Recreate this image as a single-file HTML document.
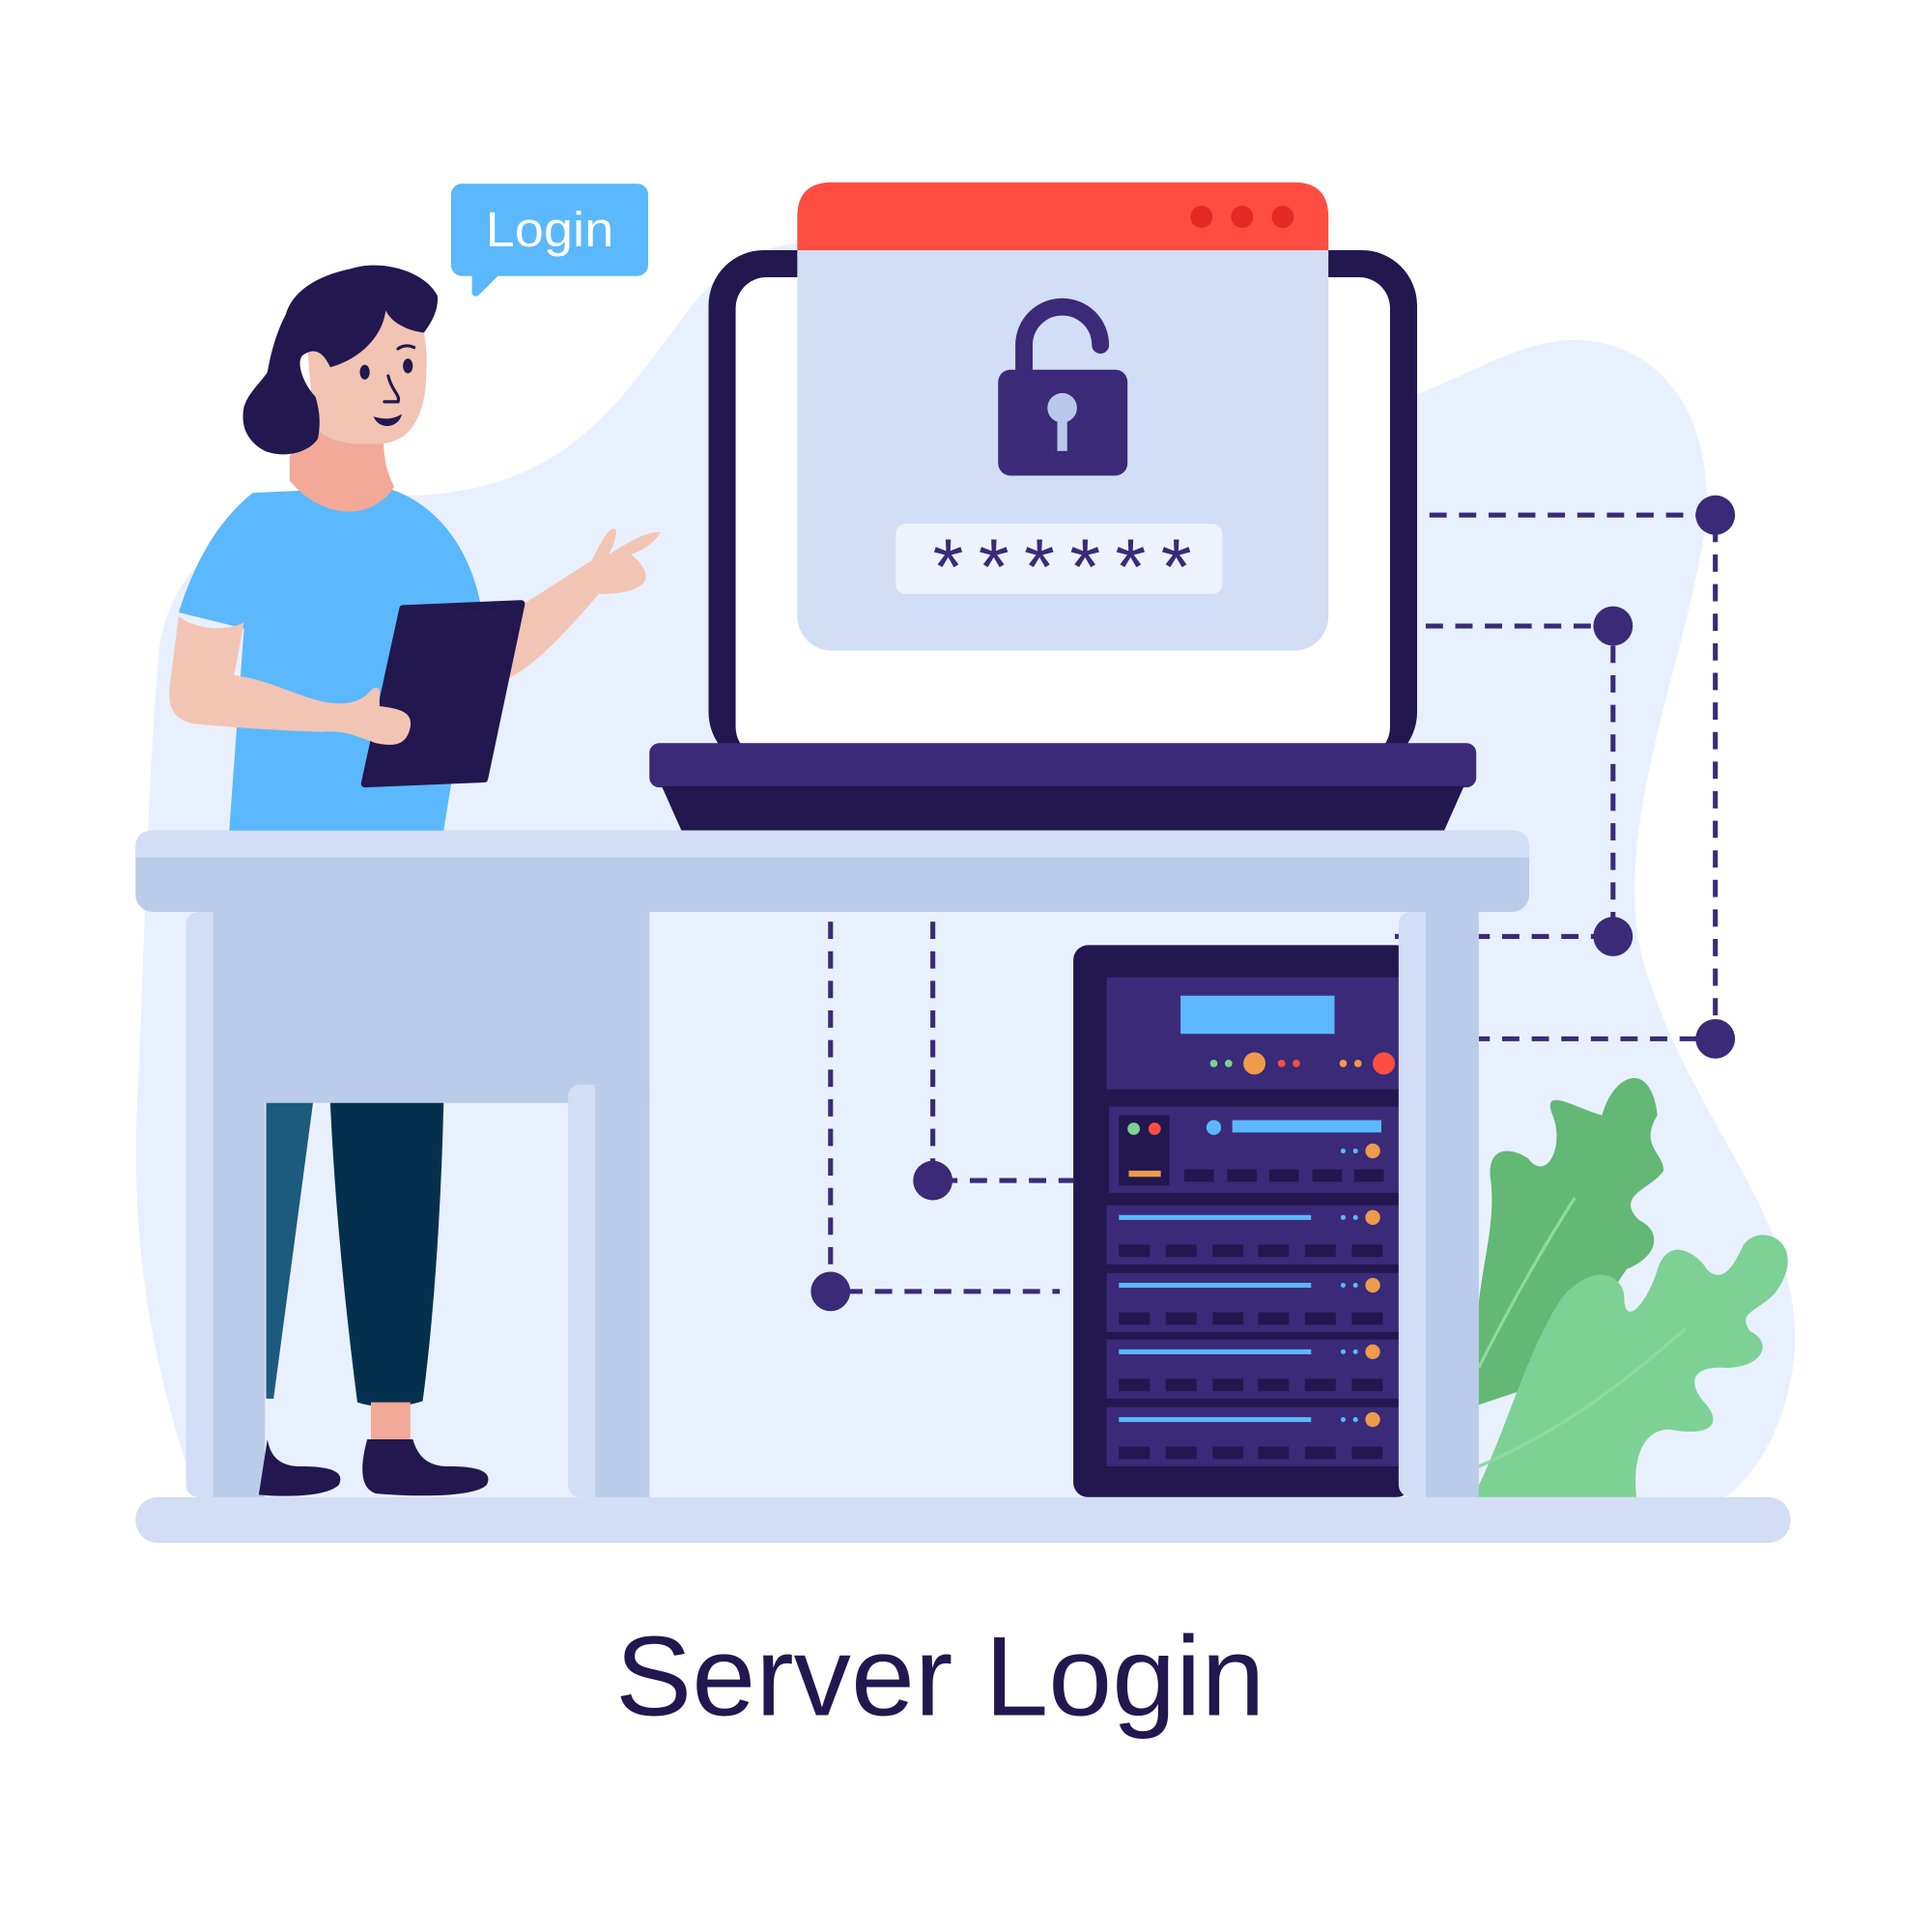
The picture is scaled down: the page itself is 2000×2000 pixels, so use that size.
<!DOCTYPE html>
<html><head><meta charset="utf-8"><style>html,body{margin:0;padding:0;background:#fff}svg{display:block}</style></head>
<body>
<svg width="2000" height="2000" viewBox="0 0 1560 1560" xmlns="http://www.w3.org/2000/svg">
<rect width="1560" height="1560" fill="#fff"/>
<g transform="scale(0.995)">
<path d="M130 520 C150 420 260 400 340 402 C460 395 500 330 560 250 C600 200 640 190 700 200 L1150 320 C1200 300 1230 280 1270 276 C1360 272 1400 360 1380 450 C1360 560 1300 700 1340 800 C1380 920 1470 1000 1455 1110 C1445 1170 1420 1200 1400 1215 L160 1215 C120 1100 105 1000 112 880 C118 750 120 620 130 520 Z" fill="#E9F0FD"/>
<rect x="575" y="203" width="575" height="420" rx="45" fill="#22174F"/>
<rect x="597" y="225" width="531" height="390" rx="25" fill="#fff"/>
<rect x="647" y="148" width="431" height="380" rx="28" fill="#D2DDF6"/>
<path d="M647 203 L647 176 Q647 148 675 148 L1050 148 Q1078 148 1078 176 L1078 203 Z" fill="#FF4D42"/>
<circle cx="975" cy="176" r="9" fill="#E42A24"/><circle cx="1008" cy="176" r="9" fill="#E42A24"/><circle cx="1041" cy="176" r="9" fill="#E42A24"/>
<path d="M831 300 L831 280 A31 31 0 0 1 893 280" fill="none" stroke="#3A2A78" stroke-width="14" stroke-linecap="round"/>
<rect x="810" y="300" width="105" height="86" rx="10" fill="#3A2A78"/>
<circle cx="862" cy="331" r="12" fill="#B9C8EA"/><rect x="858" y="338" width="8" height="28" fill="#B9C8EA"/>
<rect x="727" y="425" width="265" height="57" rx="8" fill="#EEF2FC"/>
<text x="862" y="482" text-anchor="middle" font-family="Liberation Sans, sans-serif" font-size="64" fill="#3A2A78" textLength="210" lengthAdjust="spacing">******</text>
<rect x="527" y="603" width="671" height="36" rx="8" fill="#3A2A78"/>
<path d="M537 638 L1188 638 L1172 674 L553 674 Z" fill="#22174F"/>
<g stroke="#3A2A78" stroke-width="4" stroke-dasharray="14 10" fill="none">
<path d="M1160 418 H1392 V843 H1200"/>
<path d="M1157 508 H1309 V760 H1132"/>
<path d="M757 748 V958 H871"/>
<path d="M674 748 V1048 H860"/>
</g>
<g fill="#3A2A78">
<circle cx="1392" cy="418" r="16"/><circle cx="1309" cy="508" r="16"/><circle cx="1309" cy="760" r="16"/><circle cx="1392" cy="843" r="16"/>
<circle cx="757" cy="958" r="16"/><circle cx="674" cy="1048" r="16"/>
</g>
<path d="M1200 1140 C1190 1050 1215 1010 1210 960 C1205 930 1225 930 1240 940 C1255 960 1270 930 1260 905 C1250 880 1280 900 1300 905 C1310 870 1340 860 1345 905 C1330 930 1350 935 1350 950 C1340 965 1310 970 1330 990 C1350 1000 1345 1020 1320 1030 L1260 1120 Z" fill="#62B874"/>
<path d="M1195 1215 C1220 1170 1240 1090 1270 1050 C1300 1020 1320 1040 1318 1055 C1320 1080 1340 1050 1345 1030 C1355 1000 1380 1020 1385 1030 C1400 1045 1410 1020 1415 1010 C1430 990 1470 1010 1440 1050 C1425 1065 1410 1065 1420 1080 C1440 1090 1430 1110 1400 1110 C1370 1108 1370 1125 1385 1140 C1400 1160 1380 1165 1355 1160 C1330 1160 1325 1190 1328 1215 Z" fill="#7DD195"/>
<g stroke="#8ED9A3" stroke-width="2.5" fill="none"><path d="M1200 1110 C1230 1050 1260 1000 1278 972"/><path d="M1200 1190 C1270 1160 1320 1120 1368 1078"/></g>
<rect x="871" y="767" width="274" height="448" rx="12" fill="#22174F"/>
<rect x="898" y="793" width="237" height="91" fill="#3A2A78"/>
<rect x="958" y="808" width="125" height="31" fill="#5BB8FC"/>
<circle cx="985" cy="863" r="3" fill="#7DD195"/><circle cx="997" cy="863" r="3" fill="#7DD195"/><circle cx="1018" cy="863" r="9" fill="#EE9B4B"/><circle cx="1040" cy="863" r="3" fill="#FF4D42"/><circle cx="1052" cy="863" r="3" fill="#FF4D42"/><circle cx="1090" cy="863" r="3" fill="#EE9B4B"/><circle cx="1102" cy="863" r="3" fill="#EE9B4B"/><circle cx="1123" cy="863" r="9" fill="#FF4D42"/>
<rect x="900" y="898" width="235" height="70" fill="#3A2A78"/>
<rect x="908" y="905" width="41" height="57" fill="#22174F"/>
<circle cx="920" cy="916" r="5" fill="#7DD195"/><circle cx="937" cy="916" r="5" fill="#FF4D42"/><rect x="916" y="950" width="26" height="5" fill="#EE9B4B"/>
<circle cx="985" cy="915" r="6" fill="#5BB8FC"/><rect x="1000" y="909" width="121" height="10" fill="#5BB8FC"/>
<circle cx="1090" cy="934" r="2" fill="#5BB8FC"/><circle cx="1100" cy="934" r="2" fill="#5BB8FC"/><circle cx="1114" cy="934" r="6" fill="#EE9B4B"/>
<g fill="#22174F"><rect x="961" y="949" width="24" height="10"/><rect x="996" y="949" width="24" height="10"/><rect x="1030" y="949" width="24" height="10"/><rect x="1065" y="949" width="24" height="10"/><rect x="1099" y="949" width="24" height="10"/></g>
<g id="row">
<rect x="898" y="978" width="237" height="48" fill="#3A2A78"/>
<rect x="908" y="986" width="156" height="4" fill="#5BB8FC"/>
<circle cx="1090" cy="988" r="2" fill="#5BB8FC"/><circle cx="1100" cy="988" r="2" fill="#5BB8FC"/><circle cx="1114" cy="988" r="6" fill="#EE9B4B"/>
<g fill="#22174F"><rect x="908" y="1010" width="25" height="10"/><rect x="946" y="1010" width="25" height="10"/><rect x="984" y="1010" width="25" height="10"/><rect x="1021" y="1010" width="25" height="10"/><rect x="1059" y="1010" width="25" height="10"/><rect x="1097" y="1010" width="25" height="10"/></g>
</g>
<use href="#row" y="55"/><use href="#row" y="109"/><use href="#row" y="164"/>
<rect x="110" y="674" width="1131" height="66" rx="14" fill="#BBCBEA"/>
<path d="M124 674 H1227 Q1241 674 1241 688 V696 H110 V688 Q110 674 124 674 Z" fill="#D2DDF6"/>
<rect x="151" y="740" width="64" height="475" rx="10" fill="#D2DDF6"/>
<rect x="173" y="740" width="42" height="475" fill="#BBCBEA"/>
<rect x="173" y="740" width="354" height="155" fill="#BBCBEA"/>
<rect x="461" y="880" width="66" height="335" rx="10" fill="#D2DDF6"/>
<rect x="483" y="880" width="44" height="335" fill="#BBCBEA"/>
<rect x="1135" y="740" width="65" height="475" rx="10" fill="#D2DDF6"/>
<rect x="1157" y="740" width="43" height="475" fill="#BBCBEA"/>
<rect x="110" y="1215" width="1343" height="37" rx="18" fill="#D2DDF6"/>
<path d="M216 895 H254 L222 1135 H216 Z" fill="#1C5A7E"/>
<path d="M268 895 H360 C358 980 352 1070 343 1137 C325 1143 305 1143 290 1138 C280 1060 272 980 268 895 Z" fill="#04304E"/>
<path d="M301 1138 H333 V1170 H301 Z" fill="#F3A998"/>
<path d="M217 1168 C220 1185 230 1190 245 1190 C270 1190 280 1195 275 1205 C265 1215 230 1215 210 1213 Z" fill="#22174F"/>
<path d="M298 1168 H335 C340 1185 350 1190 365 1190 C390 1190 400 1195 395 1205 C385 1215 340 1215 305 1212 C292 1208 292 1190 298 1168 Z" fill="#22174F"/>
<path d="M186 674 L198 510 L145 497 C160 450 180 420 205 400 L310 395 C350 405 380 440 390 490 L360 674 Z" fill="#5BB8FC"/>
<path d="M235 370 C245 360 255 340 258 320 L315 330 C308 360 312 380 320 395 C300 425 260 420 235 390 Z" fill="#F3A998"/>
<path d="M145 500 C160 512 185 512 198 505 L190 548 C220 552 240 565 265 570 C285 573 295 568 304 558 L308 573 C325 575 335 578 333 590 C330 605 320 606 305 603 C290 598 280 592 260 594 C230 593 180 590 155 587 C138 582 136 570 138 555 Z" fill="#F2C4B4"/>
<path d="M410 552 L425 490 L480 455 C488 440 495 425 500 430 C500 440 496 445 494 450 C505 443 525 430 536 432 C530 442 520 447 512 450 C525 460 527 470 520 475 C510 482 495 482 486 482 C460 512 435 540 410 552 Z" fill="#F2C4B4"/>
<path d="M327 494 L423 490 L393 632 L296 636 Z" fill="#22174F" stroke="#22174F" stroke-width="6" stroke-linejoin="round"/>
<path d="M296 567 C300 560 305 555 308 560 L308 573 C325 575 335 578 333 590 C330 605 320 606 305 603 C295 600 290 592 296 567 Z" fill="#F2C4B4"/>
<path d="M250 290 C250 250 280 230 315 240 C340 245 348 270 346 300 C346 335 335 358 310 360 C285 362 262 358 255 345 Z" fill="#F2C4B4"/>
<path d="M232 255 C240 228 275 220 285 218 C310 210 345 220 355 240 C356 252 350 262 344 270 C330 268 318 262 313 252 C310 275 290 292 268 298 C262 285 255 282 246 288 C240 293 245 310 256 322 C260 335 260 345 258 356 C250 368 230 372 215 366 C200 358 195 345 198 330 C202 318 212 310 217 302 C220 285 225 268 232 255 Z" fill="#22174F"/>
<ellipse cx="296" cy="302" rx="4" ry="6" fill="#22174F"/><ellipse cx="331" cy="297" rx="4" ry="6" fill="#22174F"/>
<path d="M315 305 C318 318 325 320 323 326 L312 326" fill="none" stroke="#22174F" stroke-width="2.5" stroke-linecap="round"/>
<path d="M323 283 C327 280 332 280 336 282" fill="none" stroke="#22174F" stroke-width="2.5" stroke-linecap="round"/>
<path d="M303 338 C312 341 320 340 326 336 C324 347 308 350 303 338 Z" fill="#22174F"/>
<rect x="366" y="149" width="160" height="75" rx="9" fill="#5BB8FC"/>
<path d="M383 220 L383 238 Q385 243 390 238 L407 221 Z" fill="#5BB8FC"/>
<text x="446" y="200" text-anchor="middle" font-family="Liberation Sans, sans-serif" font-size="40" fill="#fff" textLength="104" lengthAdjust="spacingAndGlyphs">Login</text>
<text x="763" y="1392" text-anchor="middle" font-family="Liberation Sans, sans-serif" font-size="92" fill="#22174F" textLength="527" lengthAdjust="spacingAndGlyphs">Server Login</text>
</g>
</svg>
</body></html>
